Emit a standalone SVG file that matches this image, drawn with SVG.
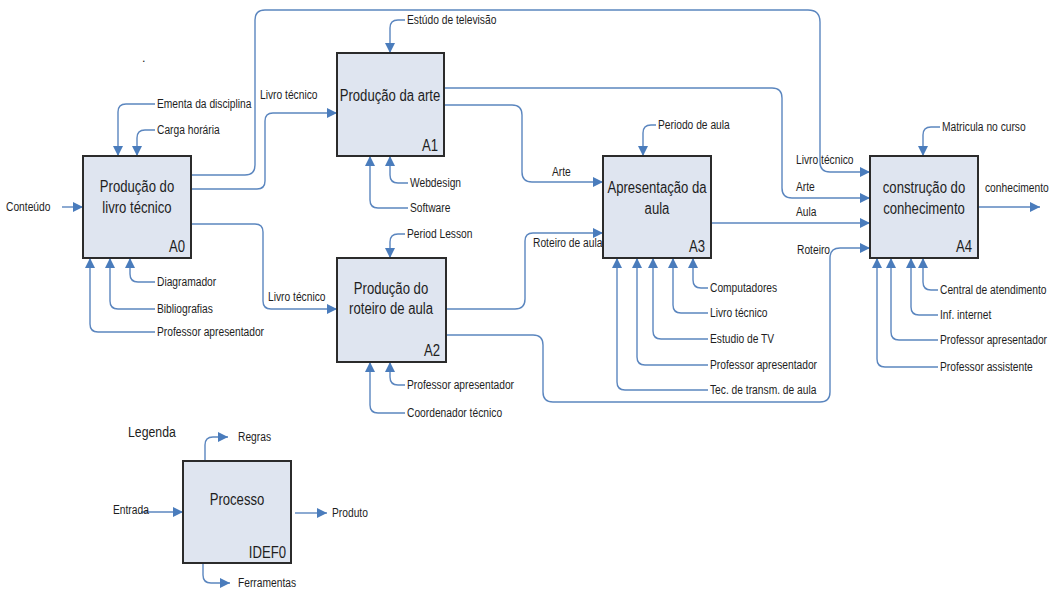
<svg xmlns="http://www.w3.org/2000/svg" width="1050" height="596" viewBox="0 0 1050 596">
<style>
.box{fill:#dfe5f0;stroke:#2b2b2b;stroke-width:2}
.t{font-family:"Liberation Sans","Arial",sans-serif;fill:#1e1e1e}
.lbl{font-size:12.5px}
.ttl{font-size:16px;text-anchor:middle}
.id{font-size:16px;text-anchor:end}
.c{fill:none;stroke:#5b86bf;stroke-width:1.4}
</style>
<defs>
<marker id="ah" markerUnits="userSpaceOnUse" markerWidth="12" markerHeight="12" refX="10" refY="5" orient="auto">
<path d="M0,0 L10,5 L0,10 Z" fill="#4a7cbc"/>
</marker>
</defs>
<rect width="1050" height="596" fill="#ffffff"/>
<text class="t lbl" x="142" y="62" fill="#666">.</text>

<g id="connectors">
<!-- A0 -->
<path class="c" d="M62,207 H83" marker-end="url(#ah)"/>
<path class="c" d="M155,104 H126 Q118,104 118,112 V156" marker-end="url(#ah)"/>
<path class="c" d="M155,130 H145 Q137,130 137,138 V156" marker-end="url(#ah)"/>
<path class="c" d="M155,282 H138 Q130,282 130,274 V258" marker-end="url(#ah)"/>
<path class="c" d="M155,309 H118 Q110,309 110,301 V258" marker-end="url(#ah)"/>
<path class="c" d="M155,332 H98 Q90,332 90,324 V258" marker-end="url(#ah)"/>
<path class="c" d="M191,175 H245 Q255,175 255,165 V20 Q255,10 265,10 H808 Q820,10 820,22 V162 Q820,172 830,172 H870" marker-end="url(#ah)"/>
<path class="c" d="M191,189 H257 Q265,189 265,181 V121 Q265,113 273,113 H337" marker-end="url(#ah)"/>
<path class="c" d="M191,224 H255 Q263,224 263,232 V301 Q263,309 271,309 H337" marker-end="url(#ah)"/>
<!-- A1 -->
<path class="c" d="M405,20 H398 Q390,20 390,28 V53" marker-end="url(#ah)"/>
<path class="c" d="M408,183 H398 Q390,183 390,175 V156" marker-end="url(#ah)"/>
<path class="c" d="M408,208 H378 Q370,208 370,200 V156" marker-end="url(#ah)"/>
<path class="c" d="M444,88 H772 Q782,88 782,98 V188 Q782,198 792,198 H870" marker-end="url(#ah)"/>
<path class="c" d="M444,105 H512 Q522,105 522,115 V172 Q522,182 532,182 H603" marker-end="url(#ah)"/>
<!-- A2 -->
<path class="c" d="M405,234 H398 Q390,234 390,242 V258" marker-end="url(#ah)"/>
<path class="c" d="M405,385 H398 Q390,385 390,377 V362" marker-end="url(#ah)"/>
<path class="c" d="M405,413 H378 Q370,413 370,405 V362" marker-end="url(#ah)"/>
<path class="c" d="M446,309 H515 Q525,309 525,299 V241 Q525,233 533,233 H603" marker-end="url(#ah)"/>
<path class="c" d="M446,335 H533 Q543,335 543,345 V392 Q543,402 553,402 H820 Q830,402 830,392 V258 Q830,248 840,248 H870" marker-end="url(#ah)"/>
<!-- A3 -->
<path class="c" d="M656,125 H651 Q643,125 643,133 V156" marker-end="url(#ah)"/>
<path class="c" d="M708,288 H701 Q693,288 693,280 V258" marker-end="url(#ah)"/>
<path class="c" d="M708,313 H681 Q673,313 673,305 V258" marker-end="url(#ah)"/>
<path class="c" d="M708,339 H661 Q653,339 653,331 V258" marker-end="url(#ah)"/>
<path class="c" d="M708,365 H645 Q637,365 637,357 V258" marker-end="url(#ah)"/>
<path class="c" d="M708,390 H625 Q617,390 617,382 V258" marker-end="url(#ah)"/>
<path class="c" d="M711,223 H870" marker-end="url(#ah)"/>
<!-- A4 -->
<path class="c" d="M940,127 H931 Q923,127 923,135 V156" marker-end="url(#ah)"/>
<path class="c" d="M938,290 H931 Q923,290 923,282 V258" marker-end="url(#ah)"/>
<path class="c" d="M938,315 H919 Q911,315 911,307 V258" marker-end="url(#ah)"/>
<path class="c" d="M938,340 H899 Q891,340 891,332 V258" marker-end="url(#ah)"/>
<path class="c" d="M938,367 H885 Q877,367 877,359 V258" marker-end="url(#ah)"/>
<path class="c" d="M978,207 H1040" marker-end="url(#ah)"/>
<!-- legend -->
<path class="c" d="M205,461 V445 Q205,437 213,437 H228" marker-end="url(#ah)"/>
<path class="c" d="M141,512 H183" marker-end="url(#ah)"/>
<path class="c" d="M295,513 H327" marker-end="url(#ah)"/>
<path class="c" d="M203,563 V575 Q203,583 211,583 H230" marker-end="url(#ah)"/>
</g>

<g id="labels" transform="scale(0.82,1)">
<text class="t lbl" x="7.32" y="211">Conteúdo</text>
<text class="t lbl" x="191.46" y="108">Ementa da disciplina</text>
<text class="t lbl" x="191.46" y="134">Carga horária</text>
<text class="t lbl" x="191.46" y="286">Diagramador</text>
<text class="t lbl" x="191.46" y="313">Bibliografias</text>
<text class="t lbl" x="191.46" y="336">Professor apresentador</text>
<text class="t lbl" x="317.07" y="99">Livro técnico</text>
<text class="t lbl" x="326.83" y="301">Livro técnico</text>
<text class="t lbl" x="496.34" y="24">Estúdo de televisão</text>
<text class="t lbl" x="500" y="187">Webdesign</text>
<text class="t lbl" x="500" y="212">Software</text>
<text class="t lbl" x="673.17" y="176">Arte</text>
<text class="t lbl" x="496.34" y="238">Period Lesson</text>
<text class="t lbl" x="496.34" y="389">Professor apresentador</text>
<text class="t lbl" x="496.34" y="417">Coordenador técnico</text>
<text class="t lbl" x="650" y="247">Roteiro de aula</text>
<text class="t lbl" x="802.44" y="129">Periodo de aula</text>
<text class="t lbl" x="865.85" y="292">Computadores</text>
<text class="t lbl" x="865.85" y="317">Livro técnico</text>
<text class="t lbl" x="865.85" y="343">Estudio de TV</text>
<text class="t lbl" x="865.85" y="369">Professor apresentador</text>
<text class="t lbl" x="865.85" y="394">Tec. de transm. de aula</text>
<text class="t lbl" x="970.73" y="164">Livro técnico</text>
<text class="t lbl" x="970.73" y="191">Arte</text>
<text class="t lbl" x="970.73" y="216">Aula</text>
<text class="t lbl" x="971.95" y="254">Roteiro</text>
<text class="t lbl" x="1148.78" y="131">Matricula no curso</text>
<text class="t lbl" x="1146.34" y="294">Central de atendimento</text>
<text class="t lbl" x="1146.34" y="319">Inf. internet</text>
<text class="t lbl" x="1146.34" y="344">Professor apresentador</text>
<text class="t lbl" x="1146.34" y="371">Professor assistente</text>
<text class="t lbl" x="1201.22" y="192">conhecimento</text>
<text class="t" x="156.1" y="437" font-size="15">Legenda</text>
<text class="t lbl" x="290.24" y="441">Regras</text>
<text class="t lbl" x="137.8" y="514">Entrada</text>
<text class="t lbl" x="404.88" y="517">Produto</text>
<text class="t lbl" x="290.24" y="587">Ferramentas</text>
</g>

<g id="A0">
<rect class="box" x="83" y="156" width="108" height="102"/>
<g transform="scale(0.82,1)">
<text class="t ttl" x="167.07" y="192">Produção do</text>
<text class="t ttl" x="167.07" y="213">livro técnico</text>
<text class="t id" x="225.61" y="252">A0</text>
</g>
</g>
<g id="A1">
<rect class="box" x="337" y="53" width="107" height="103"/>
<g transform="scale(0.82,1)">
<text class="t ttl" x="475.61" y="101">Produção da arte</text>
<text class="t id" x="534.15" y="151">A1</text>
</g>
</g>
<g id="A2">
<rect class="box" x="337" y="258" width="109" height="104"/>
<g transform="scale(0.82,1)">
<text class="t ttl" x="476.83" y="294">Produção do</text>
<text class="t ttl" x="476.83" y="314">roteiro de aula</text>
<text class="t id" x="536.59" y="356">A2</text>
</g>
</g>
<g id="A3">
<rect class="box" x="603" y="156" width="108" height="102"/>
<g transform="scale(0.82,1)">
<text class="t ttl" x="801.22" y="193">Apresentação da</text>
<text class="t ttl" x="801.22" y="214">aula</text>
<text class="t id" x="859.76" y="252">A3</text>
</g>
</g>
<g id="A4">
<rect class="box" x="870" y="156" width="108" height="102"/>
<g transform="scale(0.82,1)">
<text class="t ttl" x="1126.83" y="193">construção do</text>
<text class="t ttl" x="1126.83" y="214">conhecimento</text>
<text class="t id" x="1185.37" y="252">A4</text>
</g>
</g>
<g id="legend">
<rect class="box" x="183" y="461" width="108" height="102"/>
<g transform="scale(0.82,1)">
<text class="t ttl" x="289.02" y="505">Processo</text>
<text class="t id" x="348.78" y="558">IDEF0</text>
</g>
</g>
</svg>
